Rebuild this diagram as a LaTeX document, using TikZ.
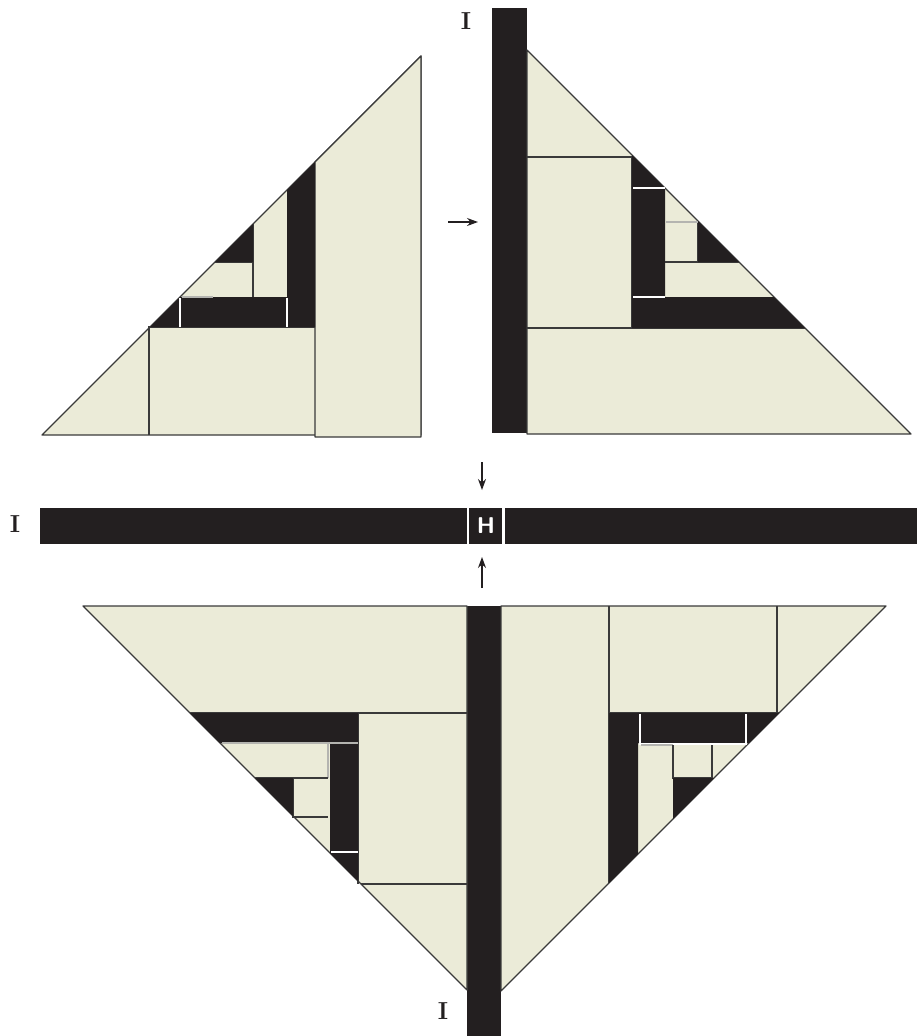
\documentclass[tikz,border=0pt]{standalone}
\usepackage{xcolor}
\usepackage{tikz}
\usetikzlibrary{arrows.meta, positioning}
\definecolor{paper}   {HTML}{EBEBD8}
\definecolor{ink}     {HTML}{231F20}
\definecolor{edge}    {HTML}{3A3A3A}
\definecolor{seamgray}{HTML}{B4B4B0}

\begin{document}
\begin{tikzpicture}[
    x=0.02cm, y=-0.02cm,
    pale/.style={fill=paper, draw=edge, line width=0.7pt, line join=round},
    inkfill/.style={fill=ink},
    rule/.style={draw=edge, line width=0.7pt},
    gap/.style={draw=white, line width=0.9pt},
    seam/.style={draw=seamgray, line width=0.8pt},
    arr/.style={-{Stealth[length=2.2mm, width=1.6mm]}, line width=0.6pt, color=ink},
    letter/.style={font=\bfseries\fontsize{14}{17}\selectfont, text=ink, inner sep=0pt},
  ]
    \useasboundingbox (0,0) rectangle (917,1036);

    % upper left piece
    \draw[pale] (42,435) -- (421,435) -- (421,56) -- cycle;
    \draw[pale] (315,162) -- (421,56) -- (421,437) -- (315,437) -- cycle;
    \draw[rule] (149,435) -- (149,327) -- (315,327);
    \fill[inkfill] (150,327) -- (180,297) -- (287,297) -- (287,190) -- (315,162) -- (315,327) -- cycle;
    \draw[gap] (180,298) -- (180,327) (287,298) -- (287,327);
    \draw[seam] (182,297) -- (213,297);
    \draw[rule] (215,262) -- (253,262) (253,224) -- (253,297);
    \fill[inkfill] (215,262) -- (253,262) -- (253,224) -- cycle;

    % upper right piece
    \fill[inkfill] (492,8) rectangle (527,433);
    \draw[pale] (527,50) -- (911,434) -- (527,434) -- cycle;
    \draw[rule] (527,157) -- (634,157) (527,328) -- (805,328) (632,157) -- (632,328);
    \fill[inkfill] (632,155) -- (665,188) -- (665,297) -- (774,297) -- (805,328) -- (632,328) -- cycle;
    \draw[gap] (633,188) -- (665,188) (633,297) -- (665,297);
    \draw[rule] (665,262) -- (739,262) (698,221) -- (698,262);
    \draw[seam] (666,222) -- (698,222);
    \fill[inkfill] (698,221) -- (739,262) -- (698,262) -- cycle;

    % middle bar
    \fill[inkfill] (40,508) rectangle (917,544);
    \draw[gap, line width=1.2pt] (468,508) -- (468,544) (503.5,508) -- (503.5,544);
    \node[font=\sffamily\bfseries\fontsize{13}{15}\selectfont, text=white, inner sep=0pt] (hlabel) at (486,526) {H};

    % lower piece
    \fill[inkfill] (467,606) rectangle (501,1036);
    \draw[pale] (83,606) -- (467,606) -- (467,990) -- cycle;
    \draw[pale] (501,606) -- (886,606) -- (501,991) -- cycle;

    \draw[rule] (190,713) -- (467,713) (358,713) -- (358,884) (361,884) -- (467,884);
    \fill[inkfill] (190,713) -- (358,713) -- (358,881) -- (330,853) -- (330,743) -- (220,743) -- cycle;
    \draw[seam] (222,743) -- (358,743) (328,743) -- (328,778);
    \draw[gap] (331,852) -- (358,852);
    \draw[rule] (255,778) -- (328,778) (293,778) -- (293,817) -- (328,817);
    \fill[inkfill] (255,778) -- (293,778) -- (293,816) -- cycle;

    \draw[rule] (609,606) -- (609,883) (777,606) -- (777,713) (609,713) -- (779,713);
    \fill[inkfill] (609,713) -- (779,713) -- (749,743) -- (638,743) -- (638,854) -- (609,883) -- cycle;
    \draw[gap] (640,714) -- (640,744) -- (746,744) -- (746,714);
    \draw[seam] (641,745) -- (673,745);
    \draw[rule] (673,745) -- (673,778) -- (712,778) (712,745) -- (712,778);
    \fill[inkfill] (673,778) -- (714,778) -- (673,819) -- cycle;

    % arrows
    \coordinate (r0) at (448,222);
    \coordinate (r1) at (478,222);
    \coordinate (d0) at (482,462);
    \coordinate (d1) at (482,490);
    \coordinate (u0) at (482,588);
    \coordinate (u1) at (482,557);
    \draw[arr] (r0) -- (r1);
    \draw[arr] (d0) -- (d1);
    \draw[arr] (u0) -- (u1);

    \node[letter] (itop)  at (466,21)   {I};
    \node[letter] (ileft) at (15,524)   {I};
    \node[letter] (ibot)  at (443,1011) {I};
  \end{tikzpicture}
\end{document}
